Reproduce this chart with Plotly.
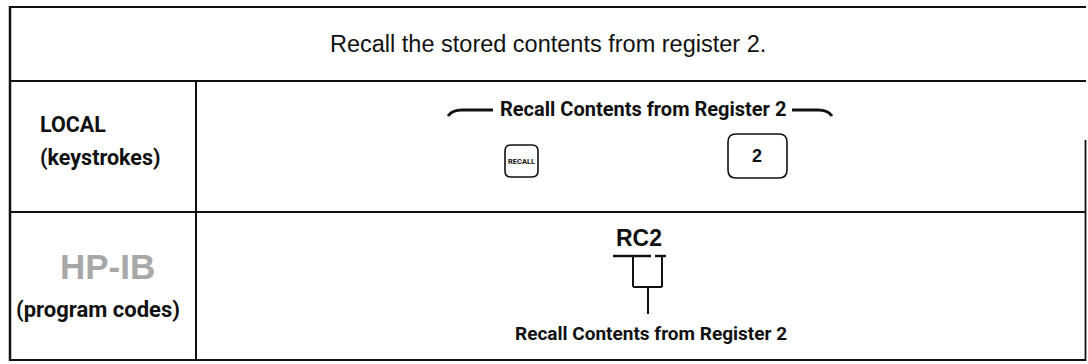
import plotly.graph_objects as go

# ---- content (texts of the table) ----
title_text = ["Recall the stored contents from register 2."]
row_labels = [["LOCAL", "(keystrokes)"], ["HP-IB", "(program codes)"]]
local_heading = ["Recall Contents from Register 2"]
local_keys = ["RECALL", "2"]
code_text = ["RC2"]
code_caption = ["Recall Contents from Register 2"]

W, H = 1088, 364
INK = "#111111"
BOLD = "Roboto, Liberation Sans, Arial, sans-serif"
SANS = "Liberation Sans, Arial, Helvetica, sans-serif"

fig = go.Figure()
fig.update_layout(
    width=W, height=H, margin=dict(l=0, r=0, t=0, b=0),
    paper_bgcolor="white", plot_bgcolor="white", showlegend=False,
    xaxis=dict(range=[0, W], visible=False, fixedrange=True),
    yaxis=dict(range=[H, 0], visible=False, fixedrange=True),
)

shapes = []
def line(x0, y0, x1, y1, w=2.2):
    shapes.append(dict(type="line", x0=x0, y0=y0, x1=x1, y1=y1, xref="x", yref="y",
                       line=dict(color=INK, width=w)))

# table grid
line(10, 7, 1086, 7)
line(10, 81, 1086, 81)
line(10, 212, 1086, 212)
line(10, 360, 1086, 360)
line(10, 6, 10, 361, 2.5)
line(196, 81, 196, 361, 2)
line(1085.5, 140, 1085.5, 361, 1.8)

def rrect(x0, y0, x1, y1, r, w=1.6):
    p = (f"M {x0+r},{y0} L {x1-r},{y0} Q {x1},{y0} {x1},{y0+r} L {x1},{y1-r} "
         f"Q {x1},{y1} {x1-r},{y1} L {x0+r},{y1} Q {x0},{y1} {x0},{y1-r} "
         f"L {x0},{y0+r} Q {x0},{y0} {x0+r},{y0} Z")
    shapes.append(dict(type="path", path=p, xref="x", yref="y",
                       line=dict(color=INK, width=w)))

# keys
rrect(505, 145, 538, 177, 6)
rrect(728, 134, 787, 178, 8)

# heading arms (curved ends)
shapes.append(dict(type="path", xref="x", yref="y", line=dict(color=INK, width=3),
                   path="M 448,116 Q 452,110 462,110 L 493,110"))
shapes.append(dict(type="path", xref="x", yref="y", line=dict(color=INK, width=3),
                   path="M 792,110 L 818,110 Q 828,110 832,116"))

# RC2 bracket
line(613, 256, 651, 256, 2.4)
line(655, 256, 666, 256, 2.4)
line(633, 256, 633, 287, 2)
line(662, 256, 662, 287, 2)
line(633, 287, 662, 287, 2)
line(648, 287, 648, 314, 2)

fig.update_layout(shapes=shapes)

ann = []
def text(x, y, s, size, family, color=INK, xanchor="center"):
    ann.append(dict(x=x, y=y, xref="x", yref="y", text=s, showarrow=False,
                    xanchor=xanchor, yanchor="middle",
                    font=dict(size=size, family=family, color=color)))

text(548, 44, title_text[0], 23.5, SANS)
text(38, 124, "<b>" + row_labels[0][0] + "</b>", 21.5, BOLD, xanchor="left")
text(38, 157, "<b>" + row_labels[0][1] + "</b>", 21.5, BOLD, xanchor="left")
text(107, 266, "<b>" + row_labels[1][0] + "</b>", 35, SANS, color="#a8a8a8")
text(98, 309, "<b>" + row_labels[1][1] + "</b>", 22, BOLD)
text(643, 109, "<b>" + local_heading[0] + "</b>", 20, BOLD)
text(521.5, 161, "<b>" + local_keys[0] + "</b>", 7.5, BOLD)
text(757, 156, "<b>" + local_keys[1] + "</b>", 18, SANS)
text(639, 238, "<b>" + code_text[0] + "</b>", 23, SANS)
text(651, 333, "<b>" + code_caption[0] + "</b>", 19, BOLD)

fig.update_layout(annotations=ann)
fig.write_html(
    "out.html",
    config={"displayModeBar": False, "staticPlot": True},
    post_script="document.body.style.margin='0';document.body.style.overflow='hidden';",
)
